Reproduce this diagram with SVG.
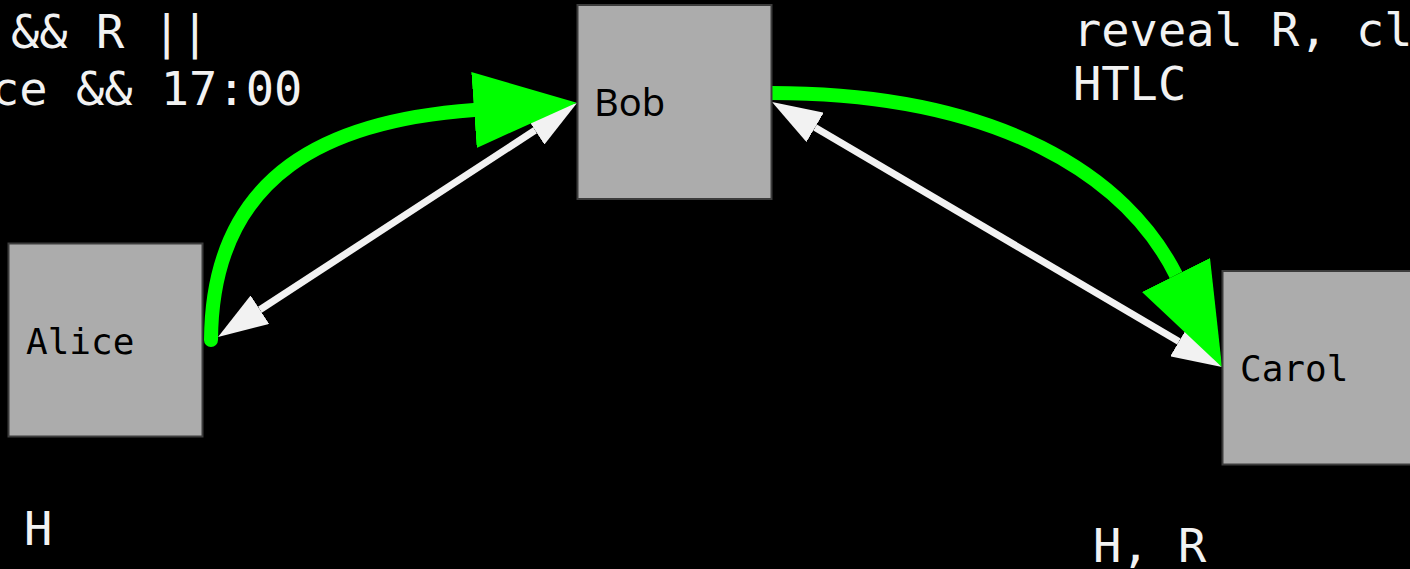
<svg xmlns="http://www.w3.org/2000/svg" width="1410" height="569" viewBox="0 0 1410 569">
  <style>
    .bg { fill: #000000; }
    .box { fill: #acacac; stroke: #3c3c3c; stroke-width: 2; }
    .lbl { font-family: "DejaVu Sans Mono", "Liberation Mono", monospace; font-size: 36px; fill: #000000; }
    .lbl-sans { font-family: "Noto Sans", "Open Sans", sans-serif; font-size: 38px; fill: #000000; }
    .note { font-family: "DejaVu Sans Mono", "Liberation Mono", monospace; font-size: 47px; fill: #f2f2f2; }
    .green { fill: none; stroke: #00ff00; stroke-width: 14; }
    .white { fill: none; stroke: #f2f2f2; stroke-width: 7; }
  </style>
  <defs>
    <marker id="greenHead" markerUnits="userSpaceOnUse" viewBox="0 0 103 76" markerWidth="103" markerHeight="76" refX="0" refY="38" orient="auto">
      <path d="M0,0 L103,38 L0,76 Z" fill="#00ff00"/>
    </marker>
    <marker id="whiteHead" markerUnits="userSpaceOnUse" viewBox="0 0 50 34" markerWidth="50" markerHeight="34" refX="0" refY="17" orient="auto-start-reverse">
      <path d="M0,0 L50,17 L0,34 Z" fill="#f2f2f2"/>
    </marker>
  </defs>
  <rect class="bg" x="0" y="0" width="1410" height="569"/>

  <g id="connectors">
    <path id="alice-bob-channel" class="white" d="M259.9,309.7 L535.1,130.3" marker-start="url(#whiteHead)" marker-end="url(#whiteHead)"/>
    <path id="bob-carol-channel" class="white" d="M815.1,127.4 L1178.9,341.6" marker-start="url(#whiteHead)" marker-end="url(#whiteHead)"/>
    <path id="alice-bob-htlc" class="green" stroke-linecap="round" d="M211,340 C212,170 334,120 474,110" marker-end="url(#greenHead)"/>
    <path id="bob-carol-htlc" class="green" d="M771,93 C1000,93 1127,177 1176,275" marker-end="url(#greenHead)"/>
  </g>

  <g id="node-alice">
    <rect class="box" x="8.5" y="243.5" width="194" height="193"/>
    <text class="lbl" x="26" y="354">Alice</text>
  </g>
  <g id="node-bob">
    <rect class="box" x="577.5" y="5" width="194" height="194"/>
    <text class="lbl-sans" x="594" y="116">Bob</text>
  </g>
  <g id="node-carol">
    <rect class="box" x="1222.5" y="271" width="194" height="193.5"/>
    <text class="lbl" x="1240" y="381">Carol</text>
  </g>

  <g id="notes">
    <text class="note" x="11" y="48">&amp;&amp; R ||</text>
    <text class="note" x="-9" y="105">ce &amp;&amp; 17:00</text>
    <text class="note" x="1073" y="46">reveal R, cl</text>
    <text class="note" x="1073" y="100">HTLC</text>
    <text class="note" x="24" y="545">H</text>
    <text class="note" x="1093" y="562">H, R</text>
  </g>
</svg>
